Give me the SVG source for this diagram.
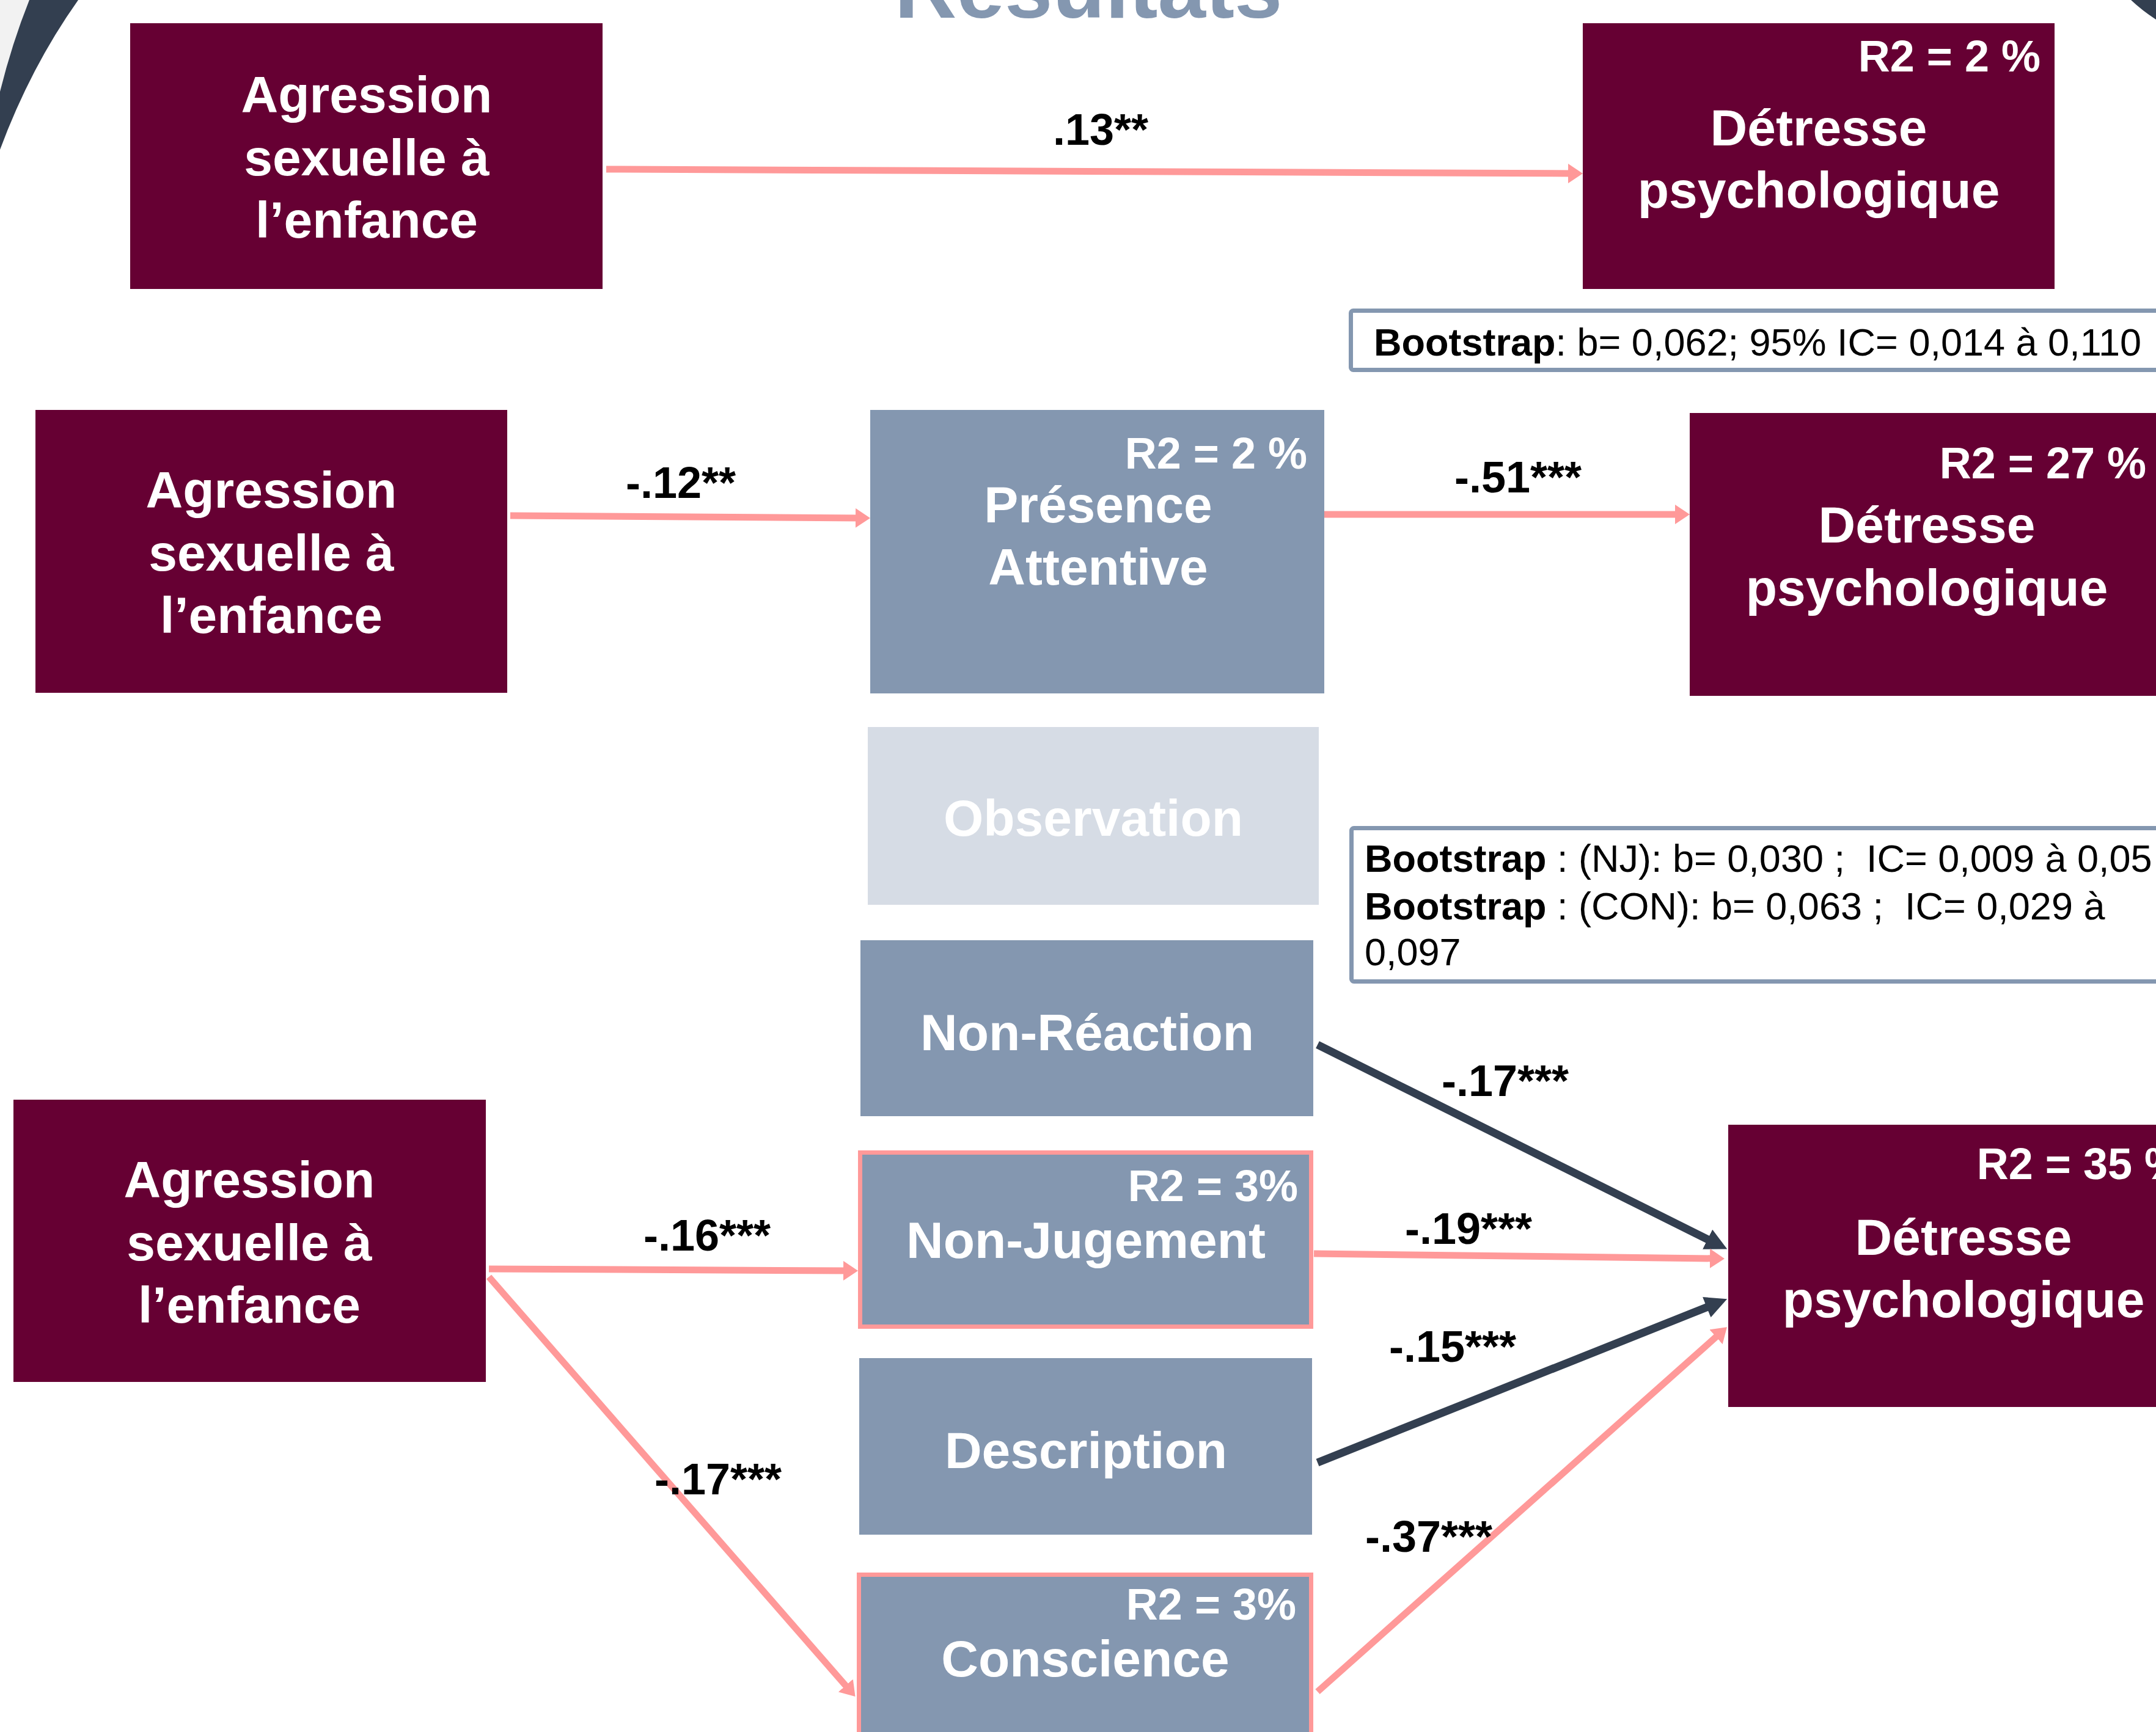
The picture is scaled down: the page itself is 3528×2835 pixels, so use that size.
<svg xmlns="http://www.w3.org/2000/svg" width="3528" height="2835" viewBox="0 0 3528 2835">
<style>
.maroon{fill:#660033}
.blue{fill:#8497B0}
.pinkbox{fill:#8497B0;stroke:#FF9999;stroke-width:7}
.light{fill:#D6DCE5}
.nt{font-family:"Liberation Sans",Arial,sans-serif;font-weight:bold;font-size:84px;fill:#FFFFFF;text-anchor:middle}
.r2{font-family:"Liberation Sans",Arial,sans-serif;font-weight:bold;font-size:72px;fill:#FFFFFF;text-anchor:end}
.coef{font-family:"Liberation Sans",Arial,sans-serif;font-weight:bold;font-size:72px;fill:#000000}
.boot{font-family:"Liberation Sans",Arial,sans-serif;font-size:63px;fill:#000000;white-space:pre}
.bootbox{fill:#FFFFFF;stroke:#8497B0;stroke-width:7}
.pl{fill:none;stroke:#FF9999;stroke-width:11}
.dl{fill:none;stroke:#333F50;stroke-width:13}
</style>
<defs>
<marker id="ap" markerUnits="userSpaceOnUse" viewBox="0 0 24 32" markerWidth="24" markerHeight="32" refX="8" refY="16" orient="auto"><path d="M0,0 L24,16 L0,32 Z" fill="#FF9999"/></marker>
<marker id="ad" markerUnits="userSpaceOnUse" viewBox="0 0 36 36" markerWidth="36" markerHeight="36" refX="10" refY="18" orient="auto"><path d="M0,0 L36,18 L0,36 Z" fill="#333F50"/></marker>
</defs>
<rect width="3528" height="2835" fill="#FFFFFF"/>
<g id="decor">
<path d="M0,0 L48,0 Q20,70 0,150 Z" fill="#F2F2F2"/>
<path d="M48,0 L128,0 Q50,110 0,245 L0,150 Q20,70 48,0 Z" fill="#333F50"/>
<path d="M3487,0 L3528,0 L3528,32 Q3505,17 3487,0 Z" fill="#333F50"/>
<text x="1781" y="29" font-family="Liberation Sans, Arial, sans-serif" font-weight="bold" font-size="141" fill="#8497B0" text-anchor="middle">Résultats</text>
</g>
<g id="connectors">
<line class="pl" x1="992" y1="277" x2="2574" y2="284" marker-end="url(#ap)"/>
<line class="pl" x1="835" y1="844" x2="1408" y2="848" marker-end="url(#ap)"/>
<line class="pl" x1="2167" y1="842" x2="2749" y2="842" marker-end="url(#ap)"/>
<line class="dl" x1="2156" y1="1710" x2="2803" y2="2033" marker-end="url(#ad)"/>
<line class="pl" x1="2150" y1="2052" x2="2806" y2="2060" marker-end="url(#ap)"/>
<line class="dl" x1="2156" y1="2394" x2="2802" y2="2136" marker-end="url(#ad)"/>
<line class="pl" x1="2156" y1="2769" x2="2814" y2="2183" marker-end="url(#ap)"/>
<line class="pl" x1="800" y1="2077" x2="1388" y2="2080" marker-end="url(#ap)"/>
<line class="pl" x1="800" y1="2090" x2="1389" y2="2765" marker-end="url(#ap)"/>
<text class="coef" x="1723" y="237">.13**</text>
<text class="coef" x="1024" y="815">-.12**</text>
<text class="coef" x="2380" y="806">-.51***</text>
<text class="coef" x="2359" y="1794">-.17***</text>
<text class="coef" x="2299" y="2036">-.19***</text>
<text class="coef" x="2273" y="2229">-.15***</text>
<text class="coef" x="2234" y="2540">-.37***</text>
<text class="coef" x="1053" y="2047">-.16***</text>
<text class="coef" x="1071" y="2446">-.17***</text>
</g>
<g id="agression1">
<rect class="maroon" x="213" y="38" width="773" height="435"/>
<text class="nt" x="600" y="184">Agression</text>
<text class="nt" x="600" y="287">sexuelle à</text>
<text class="nt" x="600" y="389">l’enfance</text>
</g>
<g id="detresse1">
<rect class="maroon" x="2590" y="38" width="772" height="435"/>
<text class="r2" x="3339" y="117">R2 = 2 %</text>
<text class="nt" x="2976" y="238">Détresse</text>
<text class="nt" x="2976" y="340">psychologique</text>
</g>
<g id="bootstrap1">
<rect class="bootbox" x="2210.5" y="508.5" width="1400" height="97" rx="4"/>
<text class="boot" x="2248" y="582"><tspan font-weight="bold">Bootstrap</tspan>: b= 0,062; 95% IC= 0,014 à 0,110</text>
</g>
<g id="agression2">
<rect class="maroon" x="58" y="671" width="772" height="463"/>
<text class="nt" x="444" y="831">Agression</text>
<text class="nt" x="444" y="934">sexuelle à</text>
<text class="nt" x="444" y="1036">l’enfance</text>
</g>
<g id="presence">
<rect class="blue" x="1424" y="671" width="743" height="464"/>
<text class="r2" x="2139" y="767">R2 = 2 %</text>
<text class="nt" x="1797" y="855">Présence</text>
<text class="nt" x="1797" y="957">Attentive</text>
</g>
<g id="detresse2">
<rect class="maroon" x="2765" y="676" width="776" height="463"/>
<text class="r2" x="3512" y="783">R2 = 27 %</text>
<text class="nt" x="3153" y="888">Détresse</text>
<text class="nt" x="3153" y="991">psychologique</text>
</g>
<g id="observation">
<rect class="light" x="1420" y="1190" width="738" height="291"/>
<text class="nt" x="1789" y="1368">Observation</text>
</g>
<g id="bootstrap2">
<rect class="bootbox" x="2211.5" y="1355.5" width="1400" height="251" rx="4"/>
<text class="boot" x="2233" y="1427"><tspan font-weight="bold">Bootstrap</tspan> : (NJ): b= 0,030 ;  IC= 0,009 à 0,05</text>
<text class="boot" x="2233" y="1505"><tspan font-weight="bold">Bootstrap</tspan> : (CON): b= 0,063 ;  IC= 0,029 à</text>
<text class="boot" x="2233" y="1580">0,097</text>
</g>
<g id="nonreaction">
<rect class="blue" x="1408" y="1539" width="741" height="288"/>
<text class="nt" x="1779" y="1719">Non-Réaction</text>
</g>
<g id="agression3">
<rect class="maroon" x="22" y="1800" width="773" height="462"/>
<text class="nt" x="408" y="1960">Agression</text>
<text class="nt" x="408" y="2063">sexuelle à</text>
<text class="nt" x="408" y="2165">l’enfance</text>
</g>
<g id="nonjugement">
<rect class="pinkbox" x="1407.5" y="1886.5" width="738" height="285"/>
<text class="r2" x="2124" y="1966">R2 = 3%</text>
<text class="nt" x="1777" y="2059">Non-Jugement</text>
</g>
<g id="detresse3">
<rect class="maroon" x="2828" y="1841" width="770" height="462"/>
<text class="r2" x="3573" y="1930">R2 = 35 %</text>
<text class="nt" x="3213" y="2054">Détresse</text>
<text class="nt" x="3213" y="2156">psychologique</text>
</g>
<g id="description">
<rect class="blue" x="1406" y="2223" width="741" height="289"/>
<text class="nt" x="1777" y="2403">Description</text>
</g>
<g id="conscience">
<rect class="pinkbox" x="1405.5" y="2577.5" width="740" height="300"/>
<text class="r2" x="2121" y="2651">R2 = 3%</text>
<text class="nt" x="1776" y="2744">Conscience</text>
</g>
</svg>
